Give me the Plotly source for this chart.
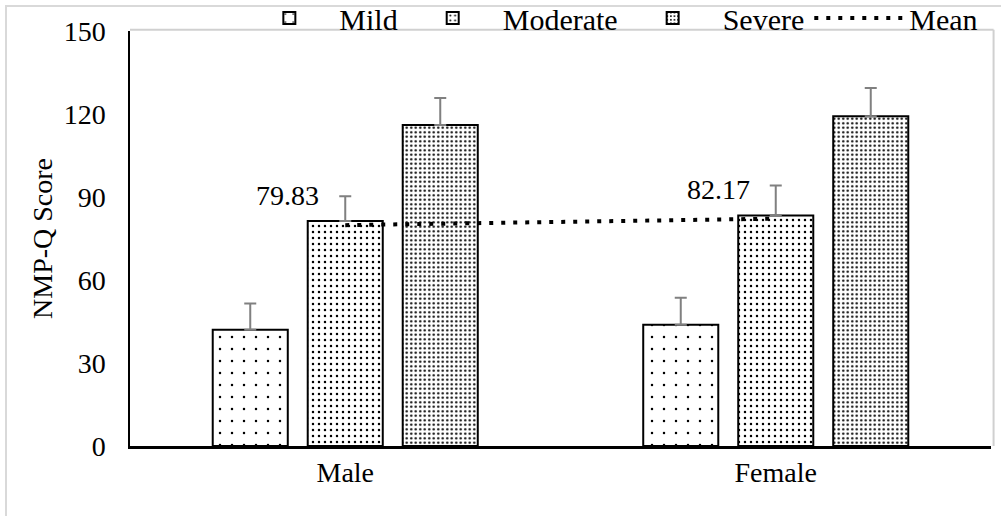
import plotly.graph_objects as go

categories = ["Male", "Female"]
series_names = ["Mild", "Moderate", "Severe"]
mild = [42.0, 43.8]
moderate = [81.3, 83.3]
severe = [116.0, 119.2]
mild_err = [9.5, 9.8]
moderate_err = [9.0, 10.9]
severe_err = [9.8, 10.2]
mean_vals = [79.83, 82.17]
y_ticks = [0, 30, 60, 90, 120, 150]

FONT = "Liberation Serif, Times New Roman, serif"
FS = 28
values = [mild, moderate, severe]
errs = [mild_err, moderate_err, severe_err]
pattern_sizes = [12, 6, 4.5]
pattern_solid = [0.035, 0.13, 0.22]

fig = go.Figure()
for name, vals, err, ps, sol in zip(series_names, values, errs, pattern_sizes, pattern_solid):
    fig.add_trace(go.Bar(
        name=name, x=categories, y=vals,
        marker=dict(color="white", line=dict(color="black", width=2),
                    pattern=dict(shape=".", fgcolor="black", bgcolor="white", fgopacity=1,
                                 size=ps, solidity=sol, fillmode="replace")),
        error_y=dict(type="data", array=err, arrayminus=[0] * len(err), symmetric=False,
                     color="#808080", thickness=2, width=6),
    ))

fig.add_trace(go.Scatter(
    name="Mean", x=categories, y=mean_vals, mode="lines",
    line=dict(color="black", width=4, dash="4px,8px"),
))

for c, v in zip(categories, mean_vals):
    fig.add_annotation(x=c, y=v, text=f"{v:.2f}", showarrow=False,
                       xanchor="right", yanchor="bottom", xshift=-24, yshift=12,
                       font=dict(family=FONT, size=FS, color="black"))

# outer chart border (light gray)
fig.add_shape(type="rect", xref="paper", yref="paper", x0=-0.144, y0=-0.3, x1=1.2, y1=1.06,
              line=dict(color="#d9d9d9", width=2), fillcolor="rgba(0,0,0,0)", layer="below")
# plot-area shadow on top and right
fig.add_shape(type="line", xref="paper", yref="paper", x0=0, y0=1.003, x1=1.003, y1=1.003,
              line=dict(color="#d0d0d0", width=2))
fig.add_shape(type="line", xref="paper", yref="paper", x0=1.003, y0=0, x1=1.003, y1=1.003,
              line=dict(color="#d0d0d0", width=2))

fig.update_layout(
    width=1001, height=516,
    margin=dict(l=130, r=10, t=31, b=70, autoexpand=False),
    paper_bgcolor="white", plot_bgcolor="white",
    barmode="group", bargap=0.338, bargroupgap=0.21,
    font=dict(family=FONT, size=FS, color="black"),
    showlegend=True,
    legend=dict(orientation="h", x=0.127, y=1.094, xanchor="left", yanchor="top",
                font=dict(family=FONT, size=30), bgcolor="rgba(0,0,0,0)",
                itemwidth=90, tracegroupgap=0, traceorder="normal"),
    xaxis=dict(showline=True, linecolor="black", linewidth=2.5, ticks="", automargin=False,
               tickfont=dict(family=FONT, size=FS), showgrid=False),
    yaxis=dict(range=[0, 150], tickvals=y_ticks, showline=True, linecolor="black", linewidth=1.5,
               ticks="", showgrid=False, zeroline=False, ticklabelstandoff=17, automargin=False,
               tickfont=dict(family=FONT, size=FS),
               title=dict(text="NMP-Q Score", font=dict(family=FONT, size=FS), standoff=3)),
)

fig.write_html("out.html", config={"displayModeBar": False},
               post_script="document.body.style.margin='0';")
